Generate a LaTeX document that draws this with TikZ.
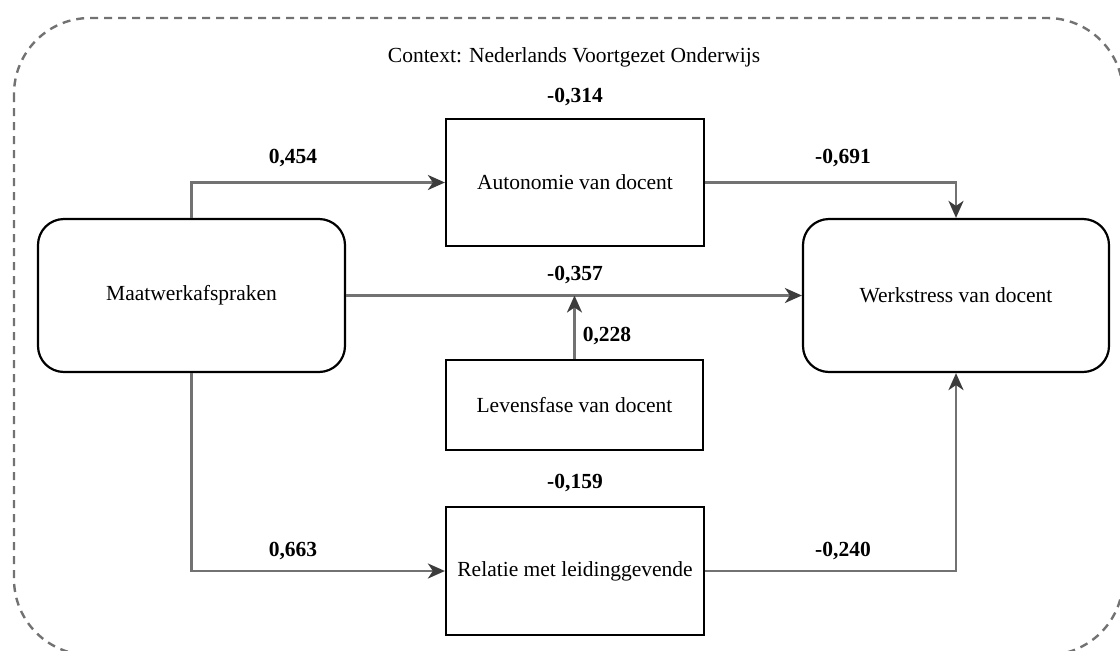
\documentclass[tikz,border=0pt]{standalone}
\usepackage{fontspec}
\setmainfont{Liberation Serif}
\usetikzlibrary{arrows.meta}
\definecolor{linegray}{HTML}{727272}
\definecolor{tipgray}{HTML}{3C3C3C}
\begin{document}
\begin{tikzpicture}[x=1pt,y=-1pt,
  font=\fontsize{21.5}{26}\selectfont,
  roundbox/.style={draw=black,line width=2.2pt,rounded corners=26pt,align=center,inner sep=0pt},
  plainbox/.style={draw=black,line width=2.2pt,align=center,inner sep=0pt},
  link/.style={draw=linegray,line width=2.4pt,-{Stealth[length=17pt,width=15pt,inset=5pt,color=tipgray]}},
  coef/.style={font=\fontsize{21.5}{26}\selectfont\bfseries,inner sep=0pt},
]
\useasboundingbox (0,0) rectangle (1120,651);

% context frame, partly running off the page
\begin{scope}
  \clip (0,0) rectangle (1120,651);
  \draw[linegray,line width=2.4pt,dash pattern=on 8pt off 6pt,rounded corners=76pt]
    (14,18) rectangle (1123,655);
\end{scope}
\node[inner sep=0pt] (ctx) at (574,57) {Context: Nederlands Voortgezet Onderwijs};

% variables
\node[roundbox,minimum width=307pt,minimum height=153pt] (maat) at (191.5,295.5) {Maatwerkafspraken};
\node[plainbox,minimum width=258pt,minimum height=127pt] (auto) at (575,182.5) {Autonomie van docent};
\node[roundbox,minimum width=306pt,minimum height=153pt] (werk) at (956,295.5) {Werkstress van docent};
\node[plainbox,minimum width=257pt,minimum height=90pt] (lev) at (574.5,405) {Levensfase van docent};
\node[plainbox,minimum width=258pt,minimum height=128pt] (rel) at (575,571) {Relatie met leidinggevende};

% paths
\draw[link] (maat.north) |- (auto.west);
\draw[link] (auto.east) -| (werk.north);
\draw[link] (maat.east) -- (werk.west);
\draw[link] (lev.north) -- (lev.north |- maat.east);
\draw[link] (maat.south) |- (rel.west);
\draw[link] (rel.east) -| (werk.south);

% coefficients
\node[coef] (c1) at (293,158) {0,454};
\node[coef] (c2) at (843,158) {-0,691};
\node[coef] (c3) at (575,97) {-0,314};
\node[coef] (c4) at (575,275) {-0,357};
\node[coef] (c5) at (607,336) {0,228};
\node[coef] (c6) at (575,483) {-0,159};
\node[coef] (c7) at (293,551) {0,663};
\node[coef] (c8) at (843,551) {-0,240};
\end{tikzpicture}
\end{document}
